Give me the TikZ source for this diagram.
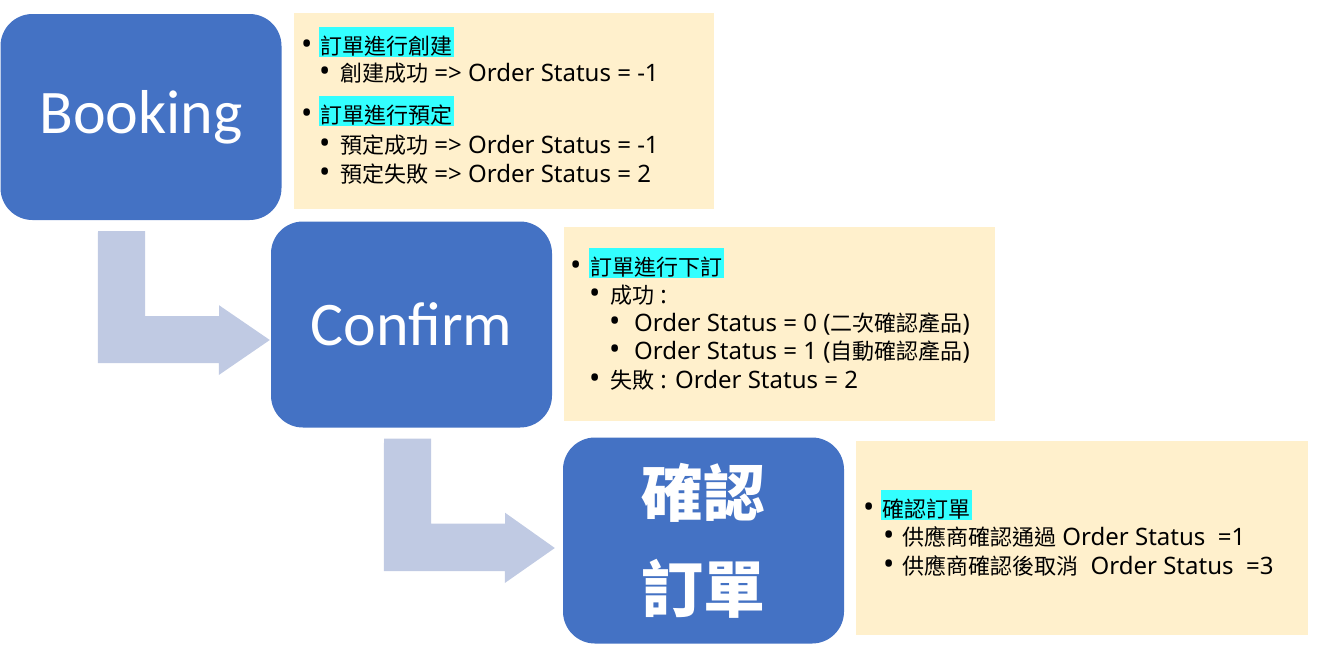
\documentclass[tikz,border=0pt]{standalone}
\usepackage{fontspec}
\setmainfont{Noto Sans}
\newfontfamily\cjkfont{Noto Sans CJK TC}
\newfontfamily\titlefont{Carlito}
\usepackage{xcolor}
\usepackage{tikz}
\usetikzlibrary{calc,positioning}
\definecolor{stageblue}{RGB}{68,114,196}
\definecolor{elbowgray}{RGB}{192,202,227}
\definecolor{notecream}{RGB}{255,240,204}
\definecolor{markcyan}{RGB}{51,255,255}
\newcommand{\cjk}[1]{{\cjkfont\fontsize{22}{26}\selectfont #1}}
\newcommand{\bul}[1]{\makebox[#1][l]{\fontsize{30}{30}\selectfont •}}
\newcommand{\hl}[1]{{\setlength{\fboxsep}{0pt}\colorbox{markcyan}{\rule[-3pt]{0pt}{30pt}\kern1.5pt\cjk{#1}\kern1.5pt}}}

\begin{document}
\begin{tikzpicture}[
    x=1pt, y=-1pt,
    stage/.style={rectangle, rounded corners=32pt, fill=stageblue, text=white, minimum width=281, minimum height=206, align=center},
    note/.style={rectangle, fill=notecream, inner sep=0pt},
    item/.style={anchor=base west, inner sep=0pt, font=\fontsize{24}{28}\selectfont},
    elbow/.style={fill=elbowgray}
]
\useasboundingbox (0,0) rectangle (1329,670);

% Stages
\node[stage, font=\titlefont\fontsize{62}{74}\selectfont] (booking) at (141,117) {Booking};
\node[stage, font=\titlefont\fontsize{62}{74}\selectfont] (confirm) at (411.5,324.5) {Confirm};
\node[stage, font=\cjkfont\bfseries\fontsize{62}{96}\selectfont] (order) at (703.5,540.5) {確認\\訂單};

% Notes
\node[note, minimum width=420, minimum height=196] (note1) at (504,111) {};
\node[note, minimum width=431, minimum height=194] (note2) at (779.5,324) {};
\node[note, minimum width=452, minimum height=194] (note3) at (1082,538) {};

% Booking note
\node[item] (b1) at (301,54) {\bul{18pt}\hl{訂單進行創建}};
\node[item] (b2) at (319,81.5) {\bul{21pt}\cjk{創建成功} => Order Status = -1};
\node[item] (b3) at (301,123) {\bul{18pt}\hl{訂單進行預定}};
\node[item] (b4) at (319,153) {\bul{21pt}\cjk{預定成功} => Order Status = -1};
\node[item] (b5) at (319,182) {\bul{21pt}\cjk{預定失敗} => Order Status = 2};

% Confirm note
\node[item] (c1) at (570,275) {\bul{19pt}\hl{訂單進行下訂}};
\node[item] (c2) at (589,303) {\bul{21pt}\cjk{成功} :};
\node[item] (c3) at (609,331) {\bul{25pt}Order Status = 0 (\cjk{二次確認產品})};
\node[item] (c4) at (609,359) {\bul{25pt}Order Status = 1 (\cjk{自動確認產品})};
\node[item] (c5) at (589,388) {\bul{21pt}\cjk{失敗} : Order Status = 2};

% Order note
\node[item] (o1) at (863,517) {\bul{18pt}\hl{確認訂單}};
\node[item] (o2) at (883,545) {\bul{19pt}\cjk{供應商確認通過} Order Status~~=1};
\node[item] (o3) at (883,574) {\bul{19pt}\cjk{供應商確認後取消}~~Order Status~~=3};

% Elbow arrows
\fill[elbow] ($(booking.south)+(-43,11)$) -- ++(47,0) -- ++(0,85) -- ++(74,0) -- ++(0,-11)
    -- ($(confirm.west)+(-1,15.5)$) -- ++(-51,35) -- ++(0,-12) -- ++(-121,0) -- cycle;
\fill[elbow] ($(confirm.south)+(-27.5,11)$) -- ++(47,0) -- ++(0,85) -- ++(74,0) -- ++(0,-11)
    -- ($(order.west)+(-8,7.5)$) -- ++(-50,35) -- ++(0,-12) -- ++(-121,0) -- cycle;

\end{tikzpicture}
\end{document}
